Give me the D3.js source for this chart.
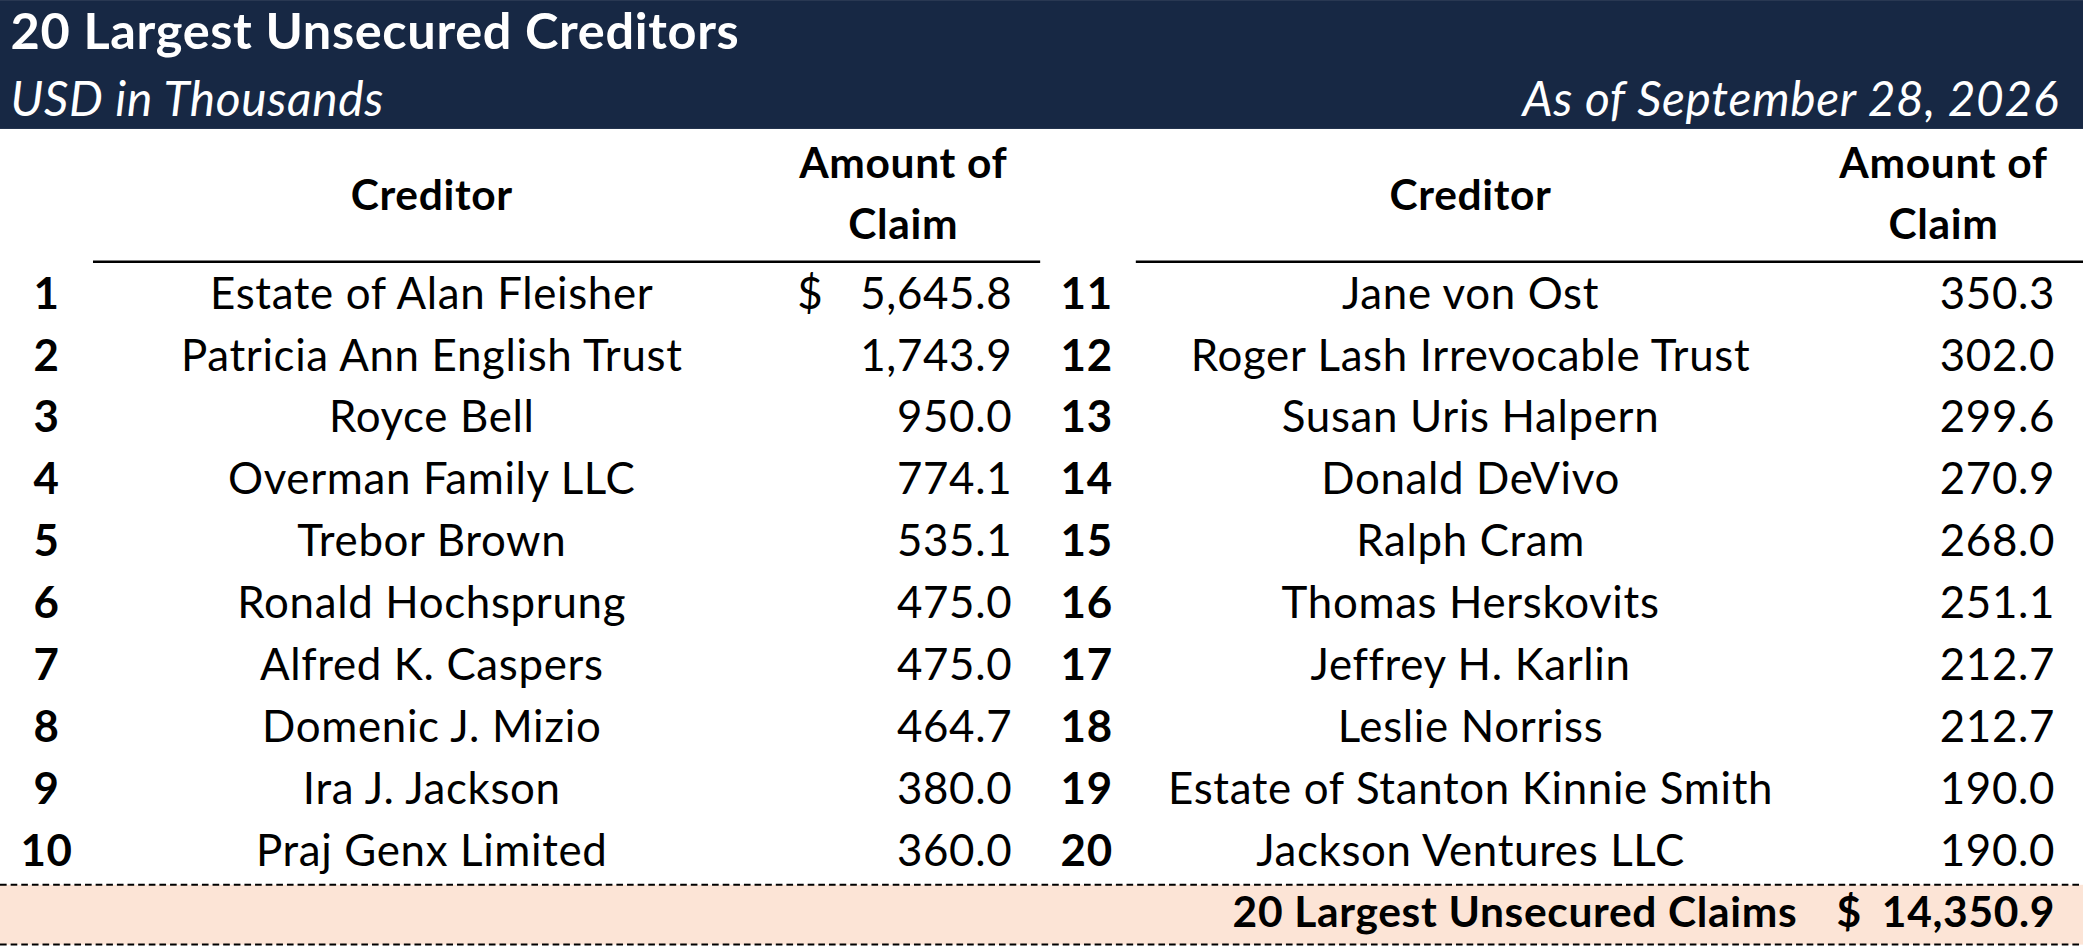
<!DOCTYPE html>
<html>
<head>
<meta charset="utf-8">
<style>
  body { margin: 0; background: #fff; }
  svg { display: block; font-family: Lato, "Open Sans", sans-serif; letter-spacing: 0.5px; }
</style>
</head>
<body>
<script src="https://cdn.jsdelivr.net/npm/d3@7"></script>
<script>
// data
var title = "20 Largest Unsecured Creditors";
var subtitle = "USD in Thousands";
var asOf = "As of September 28, 2026";
var creditors = ["Estate of Alan Fleisher", "Patricia Ann English Trust", "Royce Bell", "Overman Family LLC",
  "Trebor Brown", "Ronald Hochsprung", "Alfred K. Caspers", "Domenic J. Mizio", "Ira J. Jackson",
  "Praj Genx Limited", "Jane von Ost", "Roger Lash Irrevocable Trust", "Susan Uris Halpern",
  "Donald DeVivo", "Ralph Cram", "Thomas Herskovits", "Jeffrey H. Karlin", "Leslie Norriss",
  "Estate of Stanton Kinnie Smith", "Jackson Ventures LLC"];
var claims = [5645.8, 1743.9, 950.0, 774.1, 535.1, 475.0, 475.0, 464.7, 380.0, 360.0,
  350.3, 302.0, 299.6, 270.9, 268.0, 251.1, 212.7, 212.7, 190.0, 190.0];
var totalLabel = "20 Largest Unsecured Claims";
var total = 14350.9;

var W = 1568, H = 715;
var fmt = d3.format(",.1f");

var svg = d3.select("body").append("svg")
    .attr("width", 2083).attr("height", 950)
    .attr("viewBox", `0 0 ${W} ${H}`);

// header band
svg.append("rect").attr("x", 0).attr("y", 0).attr("width", W).attr("height", 97).attr("fill", "#172844");
svg.append("text").attr("x", 8).attr("y", 37).attr("fill", "#fff")
    .attr("font-size", 38).attr("font-weight", "bold").text(title);
svg.append("text").attr("x", 8).attr("y", 87).attr("fill", "#fff")
    .attr("font-size", 36).attr("font-style", "italic").text(subtitle);
svg.append("text").attr("x", 1550).attr("y", 87).attr("fill", "#fff").attr("text-anchor", "end")
    .attr("font-size", 36).attr("font-style", "italic").text(asOf);

// row scale
var y = d3.scaleBand().domain(d3.range(10)).range([200, 666]);

var panels = [
  {start: 0, num: 35, name: 325, dollar: 610, amt: 762, amtC: 680, lineX: [70, 783]},
  {start: 10, num: 818, name: 1107, dollar: null, amt: 1547, amtC: 1463, lineX: [855, 1568]}
];

panels.forEach(function(p) {
  var g = svg.append("g").attr("font-size", 33).attr("fill", "#000");
  g.append("text").attr("x", p.name).attr("y", 158).attr("text-anchor", "middle")
      .attr("font-weight", "bold").attr("font-size", 32).text("Creditor");
  g.append("text").attr("x", p.amtC).attr("y", 134).attr("text-anchor", "middle")
      .attr("font-weight", "bold").attr("font-size", 32).text("Amount of");
  g.append("text").attr("x", p.amtC).attr("y", 180).attr("text-anchor", "middle")
      .attr("font-weight", "bold").attr("font-size", 32).text("Claim");
  g.append("line").attr("x1", p.lineX[0]).attr("x2", p.lineX[1]).attr("y1", 197).attr("y2", 197)
      .attr("stroke", "#000").attr("stroke-width", 2);

  var rows = g.selectAll("g.row").data(d3.range(10)).join("g").attr("class", "row")
      .attr("transform", i => `translate(0,${y(i) + y.bandwidth() / 2 + 9})`);
  rows.append("text").attr("x", p.num).attr("text-anchor", "middle").attr("font-weight", "bold")
      .text(i => p.start + i + 1);
  rows.append("text").attr("x", p.name).attr("text-anchor", "middle")
      .text(i => creditors[p.start + i]);
  rows.append("text").attr("x", p.amt).attr("text-anchor", "end")
      .text(i => fmt(claims[p.start + i]));
  if (p.dollar !== null) {
    rows.filter(i => i === 0).append("text").attr("x", p.dollar).attr("text-anchor", "middle").text("$");
  }
});

// total band
svg.append("rect").attr("x", 0).attr("y", 666).attr("width", W).attr("height", 45).attr("fill", "#fce4d6");
[666, 711].forEach(function(yy) {
  svg.append("line").attr("x1", 0).attr("x2", W).attr("y1", yy).attr("y2", yy)
      .attr("stroke", "#000").attr("stroke-width", 1.5).attr("stroke-dasharray", "5,3");
});
var tg = svg.append("g").attr("font-size", 32).attr("font-weight", "bold");
tg.append("text").attr("x", 1353).attr("y", 698).attr("text-anchor", "end").text(totalLabel);
tg.append("text").attr("x", 1392).attr("y", 698).attr("text-anchor", "middle").text("$");
tg.append("text").attr("x", 1547).attr("y", 698).attr("text-anchor", "end").text(fmt(total));
</script>
</body>
</html>
